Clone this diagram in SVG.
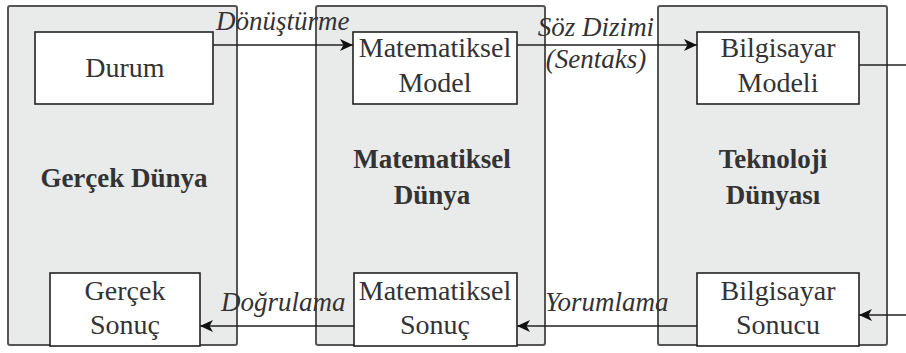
<svg xmlns="http://www.w3.org/2000/svg" width="906" height="353" viewBox="0 0 906 353">
  <defs>
    <marker id="head" markerWidth="14" markerHeight="12" refX="13" refY="6" orient="auto" markerUnits="userSpaceOnUse">
      <path d="M0,0 L13,6 L0,12 L3.5,6 Z" fill="#111"/>
    </marker>
    <style>
      .panel { fill: #e9eaea; stroke: #555; stroke-width: 2; }
      .box { fill: #ffffff; stroke: #222; stroke-width: 1.6; }
      .link { fill: none; stroke: #222; stroke-width: 1.4; }
      .t { font-family: "Liberation Serif", "Times New Roman", serif; font-size: 28px; fill: #333; text-anchor: middle; }
      .b { font-family: "Liberation Serif", "Times New Roman", serif; font-size: 27px; font-weight: bold; fill: #333; text-anchor: middle; }
      .i { font-family: "Liberation Serif", "Times New Roman", serif; font-size: 27px; font-style: italic; fill: #333; }
    </style>
  </defs>
  <rect width="906" height="353" fill="#ffffff"/>

  <!-- world panels -->
  <g id="gercek-dunya">
    <rect class="panel" x="8" y="6" width="229" height="339" rx="2"/>
    <text class="b" x="124" y="187">Gerçek Dünya</text>
  </g>
  <g id="matematiksel-dunya">
    <rect class="panel" x="316" y="6" width="229" height="339" rx="2"/>
    <text class="b" x="432" y="168">Matematiksel</text>
    <text class="b" x="432" y="204">Dünya</text>
  </g>
  <g id="teknoloji-dunyasi">
    <rect class="panel" x="658" y="6" width="229" height="339" rx="2"/>
    <text class="b" x="773" y="168">Teknoloji</text>
    <text class="b" x="773" y="204">Dünyası</text>
  </g>

  <!-- inner nodes -->
  <g id="durum">
    <rect class="box" x="35" y="32" width="178" height="72"/>
    <text class="t" x="125" y="77">Durum</text>
  </g>
  <g id="matematiksel-model">
    <rect class="box" x="353" y="32" width="164" height="72"/>
    <text class="t" x="435" y="57">Matematiksel</text>
    <text class="t" x="435" y="92">Model</text>
  </g>
  <g id="bilgisayar-modeli">
    <rect class="box" x="697" y="32" width="162" height="72"/>
    <text class="t" x="778" y="57">Bilgisayar</text>
    <text class="t" x="778" y="92">Modeli</text>
  </g>
  <g id="gercek-sonuc">
    <rect class="box" x="50" y="273" width="150" height="73"/>
    <text class="t" x="125" y="300">Gerçek</text>
    <text class="t" x="125" y="334">Sonuç</text>
  </g>
  <g id="matematiksel-sonuc">
    <rect class="box" x="354" y="273" width="163" height="73"/>
    <text class="t" x="435" y="300">Matematiksel</text>
    <text class="t" x="435" y="334">Sonuç</text>
  </g>
  <g id="bilgisayar-sonucu">
    <rect class="box" x="697" y="273" width="162" height="73"/>
    <text class="t" x="778" y="300">Bilgisayar</text>
    <text class="t" x="778" y="334">Sonucu</text>
  </g>

  <!-- connectors -->
  <g id="connectors">
    <line class="link" x1="213" y1="45" x2="353" y2="45" marker-end="url(#head)"/>
    <line class="link" x1="517" y1="45" x2="697" y2="45" marker-end="url(#head)"/>
    <line class="link" x1="859" y1="65" x2="906" y2="65"/>
    <line class="link" x1="906" y1="315" x2="859" y2="315" marker-end="url(#head)"/>
    <line class="link" x1="697" y1="326" x2="517" y2="326" marker-end="url(#head)"/>
    <line class="link" x1="354" y1="326" x2="200" y2="326" marker-end="url(#head)"/>
  </g>

  <!-- connector labels -->
  <g id="labels">
    <text class="i" x="216" y="30">Dönüştürme</text>
    <text class="i" x="596" y="36" text-anchor="middle">Söz Dizimi</text>
    <text class="i" x="596" y="68" text-anchor="middle">(Sentaks)</text>
    <text class="i" x="221" y="311">Doğrulama</text>
    <text class="i" x="545" y="311">Yorumlama</text>
  </g>
</svg>
